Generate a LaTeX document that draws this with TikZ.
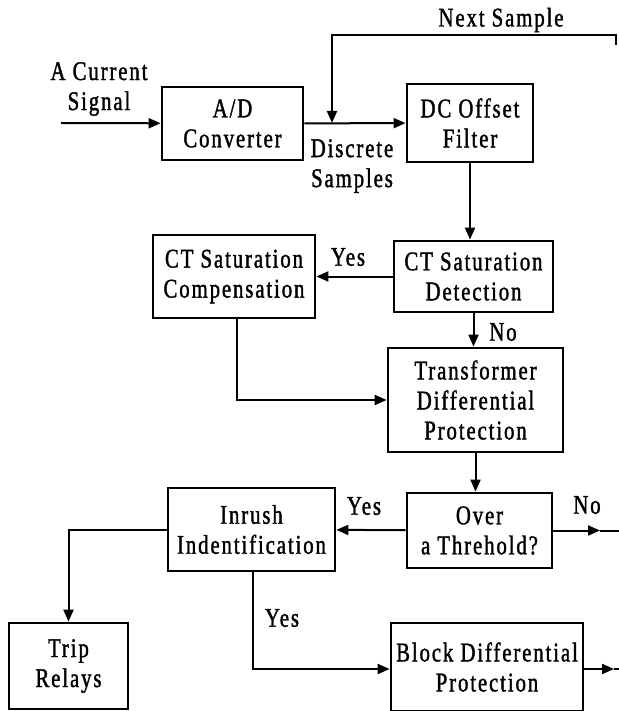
\documentclass[tikz,border=0pt]{standalone}
\usepackage{fontspec}
\setmainfont{Liberation Serif}[FakeStretch=0.77,LetterSpace=7,FakeBold=1.4]
\usetikzlibrary{arrows.meta}

\begin{document}
\begin{tikzpicture}[x=0.5pt,y=-0.5pt,
    every node/.style={font=\fontsize{13.5}{15}\selectfont,align=center,inner sep=0pt},
    box/.style={draw,line width=1.4pt},
    >={Triangle[length=6pt,width=5pt]}]

  \useasboundingbox (0,0) rectangle (619,711);

  % processing blocks
  \node [box,minimum width=70.5pt,minimum height=36.5pt] (ad)     at (232.5,123.5) {A/D\\Converter};
  \node [box,minimum width=63pt,minimum height=39pt]     (dc)     at (470,123)     {DC Offset\\Filter};
  \node [box,minimum width=79.5pt,minimum height=35.5pt] (det)    at (473.5,276.5) {CT Saturation\\Detection};
  \node [box,minimum width=81pt,minimum height=41.5pt]   (comp)   at (234,276.5)   {CT Saturation\\Compensation};
  \node [box,minimum width=87.5pt,minimum height=52pt]   (tdp)    at (475.5,400)   {Transformer\\Differential\\Protection};
  \node [box,minimum width=72.5pt,minimum height=37.5pt] (over)   at (479.5,530.5) {Over\\a Threhold?};
  \node [box,minimum width=83.5pt,minimum height=41.5pt] (inrush) at (251.5,529.5) {Inrush\\Indentification};
  \node [box,minimum width=59.5pt,minimum height=43pt]   (trip)   at (68.5,666)    {Trip\\Relays};
  \node [box,minimum width=96pt,minimum height=44pt]     (blk)    at (487,667)     {Block Differential\\Protection};

  % free labels
  \node (sig)  at (99,89)   {A Current\\Signal};
  \node (next) at (501,20)  {Next Sample};
  \node (disc) at (352,166) {Discrete\\Samples};
  \node (yes1) at (348,257) {Yes};
  \node (no1)  at (503,332) {No};
  \node (yes2) at (364,506) {Yes};
  \node (no2)  at (587,505) {No};
  \node (yes3) at (282,618) {Yes};

  % loose ends
  \coordinate (in)     at (61,123);
  \coordinate (join)   at (332,123);
  \coordinate (loop)   at (616,45);
  \coordinate (noarr)  at (600,530.5);
  \coordinate (noend)  at (619,530.5);
  \coordinate (blkarr) at (614,669);
  \coordinate (blkend) at (619,669);

  \path [every edge/.style={draw,line width=1pt,->}]
    (in)          edge (ad)
    (ad)          edge (dc)
    (dc.south)    edge (dc.south |- det.north)
    (det)         edge (comp)
    (det.south)   edge (det.south |- tdp.north)
    (tdp.south)   edge (tdp.south |- over.north)
    (over)        edge (inrush)
    (over.east)   edge (noarr);

  \draw [line width=1pt,->] (loop) -- ++(0,-10) -| (join);
  \draw [line width=1pt,->] ([xshift=1.5pt]comp.south) |- (tdp.west);
  \draw [line width=1pt,->] (inrush.west) -| (trip.north);
  \draw [line width=1pt,->] ([xshift=0.75pt]inrush.south) |- (blk.west |- blkarr);
  \draw [line width=1pt,->] (blk.east |- blkarr) -- (blkarr);
  \draw [line width=1pt] (noarr) -- (noend);
  \draw [line width=1pt] (blkarr) -- (blkend);

\end{tikzpicture}
\end{document}
